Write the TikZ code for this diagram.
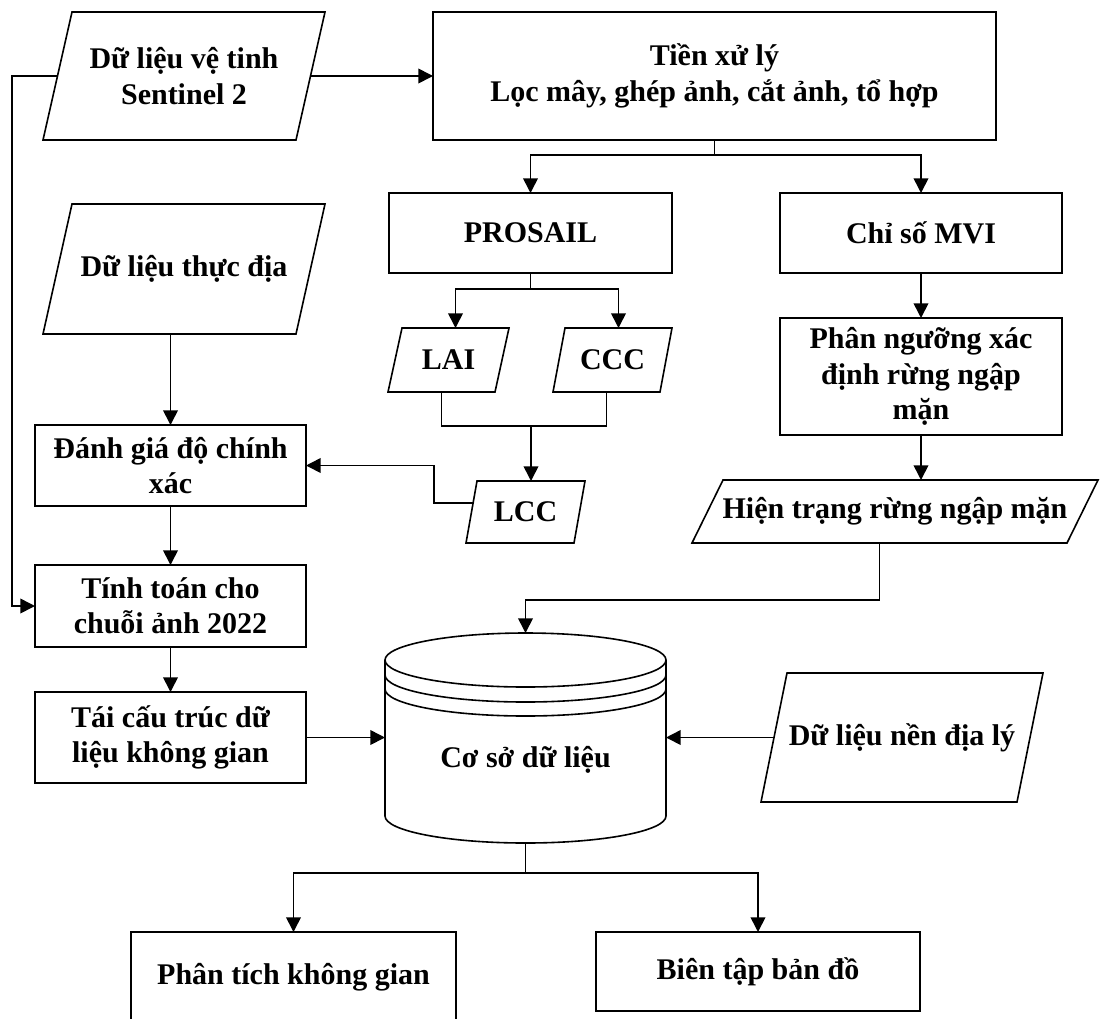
\documentclass[tikz,border=0pt]{standalone}
\usepackage{fontspec}
\setmainfont{Liberation Serif}
\usetikzlibrary{arrows.meta,calc}
\newcommand\mypar[7]{% name, x1, x2, y1, y2, slant, text
  \node[minimum width={(#3-#2)*0.75pt}, minimum height={(#5-#4)*0.75pt}] (#1) at ({(#2+#3)/2},{(#4+#5)/2}) {#7};
  \draw ([xshift=#6*0.75pt]#1.north west) -- (#1.north east) -- ([xshift=-#6*0.75pt]#1.south east) -- (#1.south west) -- cycle;
  \coordinate (#1-t) at ([xshift=#6*0.375pt]#1.north);
  \coordinate (#1-b) at ([xshift=-#6*0.375pt]#1.south);
  \coordinate (#1-l) at ([xshift=#6*0.375pt]#1.west);
  \coordinate (#1-r) at ([xshift=-#6*0.375pt]#1.east);
}
\newcommand\mybox[7]{% name, x1, x2, y1, y2, text
  \node[box, minimum width={(#3-#2)*0.75pt}, minimum height={(#5-#4)*0.75pt}] (#1) at ({(#2+#3)/2},{(#4+#5)/2}) {#6};
}
\begin{document}
\begin{tikzpicture}[x=0.75pt,y=-0.75pt,
  line width=1.2pt,
  every node/.style={font=\fontsize{22.5}{26.5}\selectfont\bfseries, align=center, inner sep=0pt, outer sep=0pt},
  box/.style={draw, rectangle},
  arr/.style={-{Triangle[length=11pt,width=11pt]}},
]
\useasboundingbox (0,0) rectangle (1105,1018);

% rectangles
\mybox{pre}{433}{996}{12}{140}{Tiền xử lý\\Lọc mây, ghép ảnh, cắt ảnh, tổ hợp}{}
\mybox{prosail}{389}{672}{193}{273}{PROSAIL}{}
\mybox{mvi}{780}{1062}{193}{273}{Chỉ số MVI}{}
\mybox{nguong}{780}{1062}{318}{435}{Phân ngưỡng xác\\định rừng ngập\\mặn}{}
\mybox{danhgia}{35}{306}{425}{506}{Đánh giá độ chính\\xác}{}
\mybox{tinhtoan}{35}{306}{565}{647}{Tính toán cho\\chuỗi ảnh 2022}{}
\mybox{taicau}{35}{306}{692}{783}{Tái cấu trúc dữ\\liệu không gian}{}
\mybox{phantich}{131}{456}{932}{1022}{Phân tích không gian}{}
\mybox{bientap}{596}{920}{932}{1011}{Biên tập bản đồ}{}

% parallelograms
\mypar{sentinel}{43}{325}{12}{140}{29}{Dữ liệu vệ tinh\\Sentinel 2}
\mypar{thucdia}{43}{325}{204}{334}{29}{Dữ liệu thực địa}
\mypar{lai}{388}{509}{328}{392}{14}{LAI}
\mypar{ccc}{553}{672}{328}{392}{12}{CCC}
\mypar{lcc}{466}{585}{481}{543}{11}{LCC}
\mypar{hientrang}{692}{1098}{480}{543}{31}{Hiện trạng rừng ngập mặn}
\mypar{nen}{761}{1043}{673}{802}{26}{Dữ liệu nền địa lý}

% database cylinder
\node[minimum width=281*0.75pt, minimum height=210*0.75pt] (db) at (525.5,738) {};
\draw (385,660) -- (385,816) arc[start angle=180,end angle=360,x radius=105.375pt,y radius=20.25pt] -- (666,660);
\draw (525.5,660) ellipse [x radius=105.375pt, y radius=20.25pt];
\draw (385,675) arc[start angle=180,end angle=360,x radius=105.375pt,y radius=20.25pt];
\draw (385,689) arc[start angle=180,end angle=360,x radius=105.375pt,y radius=20.25pt];
\node (dbtext) at (525.5,760) {Cơ sở dữ liệu};

% connectors
\coordinate (lft) at (12,0);
\draw[arr] (sentinel-r) -- (pre.west |- sentinel-r);
\draw[arr] (sentinel-l) -- (sentinel-l -| lft) |- (tinhtoan.west);

\coordinate (s1) at (714.5,155);
\draw[arr] (pre.south) -- (s1) -| (prosail.north);
\draw[arr] (s1) -| (mvi.north);

\draw (prosail.south) -- ++(0,16) coordinate (s2);
\draw[arr] (s2) -| (lai-t);
\draw[arr] (s2) -| (ccc-t);
\coordinate (j) at (lcc-t |- 0,426);
\draw (lai-b) |- (j) -| (ccc-b);
\draw[arr] (j) -- (lcc-t);

\coordinate (k) at ($(lcc.south west)+(7,-40)$);
\draw[arr] (k) -- ++(-39,0) |- (danhgia.east);

\draw[arr] (danhgia.north |- thucdia.south) -- (danhgia.north);
\draw[arr] (danhgia.south) -- (tinhtoan.north);
\draw[arr] (tinhtoan.south) -- (taicau.north);
\draw[arr] (taicau.east) -- (db.west |- taicau.east);

\draw[arr] (mvi.south) -- (nguong.north);
\draw[arr] (nguong.south) -- (nguong.south |- hientrang.north);
\draw[arr] (hientrang-b) -- ++(0,57) -| (db.north);
\draw[arr] (nen-l) -- (db.east |- nen-l);

\draw (db.south) -- ++(0,30) coordinate (s3);
\draw[arr] (s3) -| (phantich.north);
\draw[arr] (s3) -| (bientap.north);
\end{tikzpicture}
\end{document}
